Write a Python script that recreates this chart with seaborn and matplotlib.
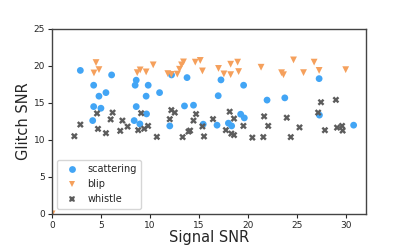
import numpy as np
import pandas as pd
import matplotlib
matplotlib.use("Agg")
import matplotlib.pyplot as plt
import seaborn as sns

# values
scattering_x = [2.88, 4.24, 4.78, 5.49, 6.07, 4.24, 4.98, 4.14, 8.58, 8.47, 8.58, 8.37,
                8.95, 9.63, 9.59, 9.80, 10.96, 12.00, 12.18, 13.50, 14.42, 13.76, 15.41,
                16.82, 16.94, 17.22, 17.98, 18.31, 19.23, 19.60, 19.53, 21.92, 23.73,
                27.23, 27.26, 30.75]
scattering_y = [19.39, 17.39, 15.91, 16.39, 18.78, 14.50, 14.28, 12.61, 18.07, 17.39, 14.50, 12.61,
                12.16, 13.51, 15.91, 17.39, 16.39, 11.89, 18.78, 14.59, 14.69, 18.42, 12.12,
                11.99, 15.97, 18.11, 12.26, 11.89, 13.47, 12.97, 17.39, 15.38, 15.68,
                18.28, 13.35, 11.99]

blip_x = [0.0, 4.48, 4.78, 4.27, 8.68, 8.98, 9.59, 10.31, 11.80, 12.16, 12.77, 12.99, 13.20,
          13.40, 14.60, 15.11, 15.33, 16.97, 17.52, 18.21, 18.21, 18.92, 19.02, 21.31,
          23.40, 23.60, 24.62, 25.64, 26.72, 27.23, 29.94]
blip_y = [0.0, 20.45, 19.50, 19.05, 19.09, 19.46, 19.19, 20.14, 18.96, 18.85, 18.89, 19.55, 20.14,
          20.54, 20.51, 20.74, 19.32, 19.66, 18.92, 20.23, 18.82, 20.51, 19.23, 19.82,
          19.08, 18.81, 20.81, 19.09, 20.51, 19.39, 19.49]

whistle_x = [2.27, 2.88, 4.58, 4.68, 5.49, 6.17, 5.97, 7.17, 6.95, 7.70, 8.78, 9.08, 9.79,
             9.39, 10.68, 12.00, 12.16, 12.51, 13.31, 13.91, 14.07, 14.42, 14.68, 15.33,
             15.49, 16.41, 18.11, 18.55, 19.51, 17.72, 18.28, 18.55, 20.42, 21.62, 22.04,
             21.54, 23.93, 24.34, 25.23, 27.42, 27.13, 27.82, 28.94, 29.06, 29.57, 29.63]
whistle_y = [10.50, 12.07, 13.58, 11.49, 10.91, 13.69, 12.77, 12.61, 11.22, 11.80, 11.32, 13.61, 11.89,
             11.51, 10.41, 12.80, 14.03, 13.69, 10.38, 11.12, 11.26, 12.61, 13.49, 11.82,
             10.47, 12.81, 13.81, 12.88, 11.89, 11.32, 10.85, 10.65, 10.31, 13.18, 11.89,
             10.38, 13.00, 10.38, 11.69, 15.09, 13.69, 11.31, 15.41, 11.66, 11.89, 11.26]

df = pd.concat([
    pd.DataFrame({"signal": scattering_x, "glitch": scattering_y, "kind": "scattering"}),
    pd.DataFrame({"signal": blip_x, "glitch": blip_y, "kind": "blip"}),
    pd.DataFrame({"signal": whistle_x, "glitch": whistle_y, "kind": "whistle"}),
], ignore_index=True)

sns.set_style("ticks")
plt.rcParams['font.family'] = ['DejaVu Sans']

fig, ax = plt.subplots(figsize=(4.07, 2.45), dpi=100)
fig.subplots_adjust(left=0.128, right=0.899, top=0.882, bottom=0.127)

palette = {"scattering": "#42a5f5", "blip": "#f5a05c", "whistle": "#5c5c5c"}
markers = {"scattering": "o", "blip": "v", "whistle": "X"}
sns.scatterplot(data=df, x="signal", y="glitch", hue="kind", style="kind",
                palette=palette, markers=markers, s=24, linewidth=0, ax=ax)

ax.set_xlim(0, 32)
ax.set_ylim(0, 25)
ax.set_xticks([0, 5, 10, 15, 20, 25, 30])
ax.set_yticks([0, 5, 10, 15, 20, 25])
ax.tick_params(labelsize=6.5, length=3, width=0.8, pad=2)
for sp in ax.spines.values():
    sp.set_color("#444444")
    sp.set_linewidth(1.0)

ax.set_xlabel("Signal SNR", fontsize=10.5, labelpad=0)
ax.set_ylabel("Glitch SNR", fontsize=10.5, labelpad=2)

ax.legend(loc="lower left", fontsize=7, title=None, markerscale=1.0,
          handletextpad=0.6, borderpad=0.5)

fig.savefig("out.png", dpi=100)
